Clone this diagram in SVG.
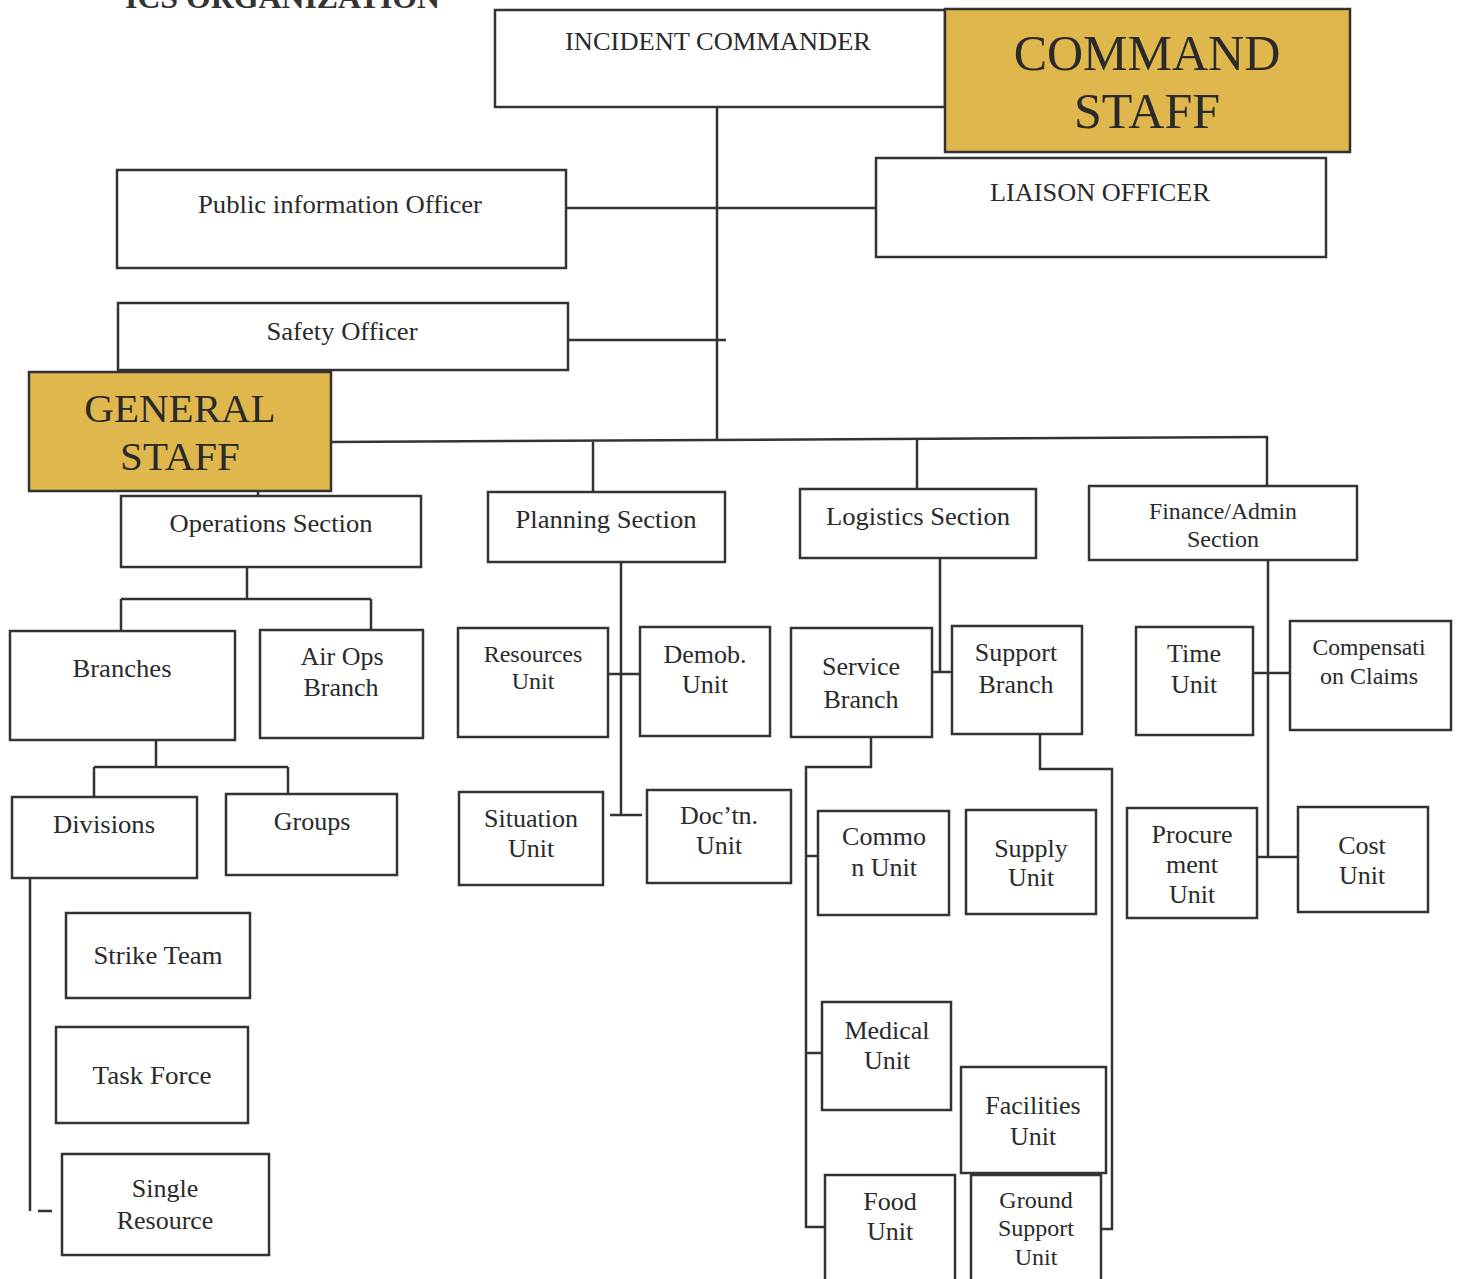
<svg xmlns="http://www.w3.org/2000/svg" width="1460" height="1279" viewBox="0 0 1460 1279">
<style>
.box{fill:#ffffff;stroke:#333;stroke-width:2.5}
.gold{fill:#dfb74d;stroke:#333;stroke-width:2.5}
.t{font-family:"Liberation Serif","Times New Roman",serif;font-size:26px;fill:#2a2a2a;text-anchor:middle}
.s{font-size:24px}
.big{font-size:50px}
.gs{font-size:41px}
.title{font-family:"Liberation Serif","Times New Roman",serif;font-size:31px;font-weight:bold;fill:#333}
.c{fill:none;stroke:#333;stroke-width:2.5}
</style>
<rect width="1460" height="1279" fill="#ffffff"/>
<text class="title" x="125" y="8" textLength="315" lengthAdjust="spacingAndGlyphs">ICS ORGANIZATION</text>

<g id="connectors" class="c">
<path d="M717,107 V441"/>
<path d="M566,208 H880"/>
<path d="M568,340 H726"/>
<path d="M331,442 L1267,437"/>
<path d="M593,442 V492"/>
<path d="M917,439 V489"/>
<path d="M1267,436 V486"/>
<path d="M258,491 V496"/>
<path d="M247,567 V599 M121,599 H371 M121,599 V631 M371,599 V630"/>
<path d="M156,740 V767 M94,767 H288 M94,767 V797 M288,767 V794"/>
<path d="M30,878 V1211 M38,1211 H52"/>
<path d="M621,562 V815 M608,674 H640 M610,815 H642"/>
<path d="M940,558 V672 M932,672 H952"/>
<path d="M871,737 V767 H806 V1227 H825 M806,856 H818 M806,1053 H822"/>
<path d="M1040,734 V769 H1112 V1229 H1101"/>
<path d="M1268,560 V857 M1253,673 H1290 M1257,857 H1298"/>
</g>

<g id="incident-commander"><rect class="box" x="495" y="10" width="450" height="97"/><text class="t" x="718" y="50" textLength="306" lengthAdjust="spacingAndGlyphs">INCIDENT COMMANDER</text></g>
<g id="command-staff"><rect class="gold" x="945" y="9" width="405" height="143"/><text class="t big" x="1147" y="70">COMMAND</text><text class="t big" x="1147" y="128">STAFF</text></g>
<g id="public-information-officer"><rect class="box" x="117" y="170" width="449" height="98"/><text class="t" x="340" y="213" font-size="28" textLength="284" lengthAdjust="spacingAndGlyphs">Public information Officer</text></g>
<g id="liaison-officer"><rect class="box" x="876" y="158" width="450" height="99"/><text class="t" x="1100" y="201" textLength="220" lengthAdjust="spacingAndGlyphs">LIAISON OFFICER</text></g>
<g id="safety-officer"><rect class="box" x="118" y="303" width="450" height="67"/><text class="t" x="342" y="340" font-size="28" textLength="151" lengthAdjust="spacingAndGlyphs">Safety Officer</text></g>
<g id="general-staff"><rect class="gold" x="29" y="372" width="302" height="119"/><text class="t gs" x="180" y="422">GENERAL</text><text class="t gs" x="180" y="470">STAFF</text></g>

<g id="operations-section"><rect class="box" x="121" y="496" width="300" height="71"/><text class="t" x="271" y="532" textLength="203" lengthAdjust="spacingAndGlyphs">Operations Section</text></g>
<g id="planning-section"><rect class="box" x="488" y="492" width="237" height="70"/><text class="t" x="606" y="528" textLength="181" lengthAdjust="spacingAndGlyphs">Planning Section</text></g>
<g id="logistics-section"><rect class="box" x="800" y="489" width="236" height="69"/><text class="t" x="918" y="525" textLength="184" lengthAdjust="spacingAndGlyphs">Logistics Section</text></g>
<g id="finance-admin-section"><rect class="box" x="1089" y="486" width="268" height="74"/><text class="t s" x="1223" y="519" textLength="148" lengthAdjust="spacingAndGlyphs">Finance/Admin</text><text class="t s" x="1223" y="547">Section</text></g>

<g id="branches"><rect class="box" x="10" y="631" width="225" height="109"/><text class="t" x="122" y="677" textLength="99" lengthAdjust="spacingAndGlyphs">Branches</text></g>
<g id="air-ops-branch"><rect class="box" x="260" y="630" width="163" height="108"/><text class="t" x="342" y="665">Air Ops</text><text class="t" x="341" y="696">Branch</text></g>
<g id="resources-unit"><rect class="box" x="458" y="628" width="150" height="109"/><text class="t s" x="533" y="662">Resources</text><text class="t s" x="533" y="689">Unit</text></g>
<g id="demob-unit"><rect class="box" x="640" y="627" width="130" height="109"/><text class="t" x="705" y="663">Demob.</text><text class="t" x="705" y="693">Unit</text></g>
<g id="service-branch"><rect class="box" x="791" y="628" width="141" height="109"/><text class="t" x="861" y="675" font-size="27">Service</text><text class="t" x="861" y="708" font-size="27">Branch</text></g>
<g id="support-branch"><rect class="box" x="952" y="626" width="130" height="108"/><text class="t" x="1016" y="661">Support</text><text class="t" x="1016" y="693">Branch</text></g>
<g id="time-unit"><rect class="box" x="1136" y="627" width="117" height="108"/><text class="t" x="1194" y="662">Time</text><text class="t" x="1194" y="693">Unit</text></g>
<g id="compensation-claims"><rect class="box" x="1290" y="621" width="161" height="109"/><text class="t s" x="1369" y="655" textLength="113" lengthAdjust="spacingAndGlyphs">Compensati</text><text class="t s" x="1369" y="684" textLength="98" lengthAdjust="spacingAndGlyphs">on Claims</text></g>

<g id="divisions"><rect class="box" x="12" y="797" width="185" height="81"/><text class="t" x="104" y="833" textLength="102" lengthAdjust="spacingAndGlyphs">Divisions</text></g>
<g id="groups"><rect class="box" x="226" y="794" width="171" height="81"/><text class="t" x="312" y="830">Groups</text></g>
<g id="situation-unit"><rect class="box" x="459" y="792" width="144" height="93"/><text class="t" x="531" y="827">Situation</text><text class="t" x="531" y="857">Unit</text></g>
<g id="doctn-unit"><rect class="box" x="647" y="790" width="144" height="93"/><text class="t" x="719" y="824">Doc’tn.</text><text class="t" x="719" y="854">Unit</text></g>
<g id="commo-unit"><rect class="box" x="818" y="811" width="131" height="104"/><text class="t" x="884" y="845">Commo</text><text class="t" x="884" y="876">n Unit</text></g>
<g id="supply-unit"><rect class="box" x="966" y="810" width="130" height="104"/><text class="t" x="1031" y="857">Supply</text><text class="t" x="1031" y="886">Unit</text></g>
<g id="procurement-unit"><rect class="box" x="1127" y="808" width="130" height="110"/><text class="t" x="1192" y="843">Procure</text><text class="t" x="1192" y="873">ment</text><text class="t" x="1192" y="903">Unit</text></g>
<g id="cost-unit"><rect class="box" x="1298" y="807" width="130" height="105"/><text class="t" x="1362" y="854">Cost</text><text class="t" x="1362" y="884">Unit</text></g>

<g id="strike-team"><rect class="box" x="66" y="913" width="184" height="85"/><text class="t" x="158" y="964" textLength="129" lengthAdjust="spacingAndGlyphs">Strike Team</text></g>
<g id="task-force"><rect class="box" x="56" y="1027" width="192" height="96"/><text class="t" x="152" y="1084" textLength="119" lengthAdjust="spacingAndGlyphs">Task Force</text></g>
<g id="single-resource"><rect class="box" x="62" y="1154" width="207" height="101"/><text class="t" x="165" y="1197">Single</text><text class="t" x="165" y="1229">Resource</text></g>

<g id="medical-unit"><rect class="box" x="822" y="1002" width="129" height="108"/><text class="t" x="887" y="1039">Medical</text><text class="t" x="887" y="1069">Unit</text></g>
<g id="facilities-unit"><rect class="box" x="961" y="1067" width="145" height="106"/><text class="t" x="1033" y="1114">Facilities</text><text class="t" x="1033" y="1145">Unit</text></g>
<g id="food-unit"><rect class="box" x="825" y="1175" width="130" height="110"/><text class="t" x="890" y="1210">Food</text><text class="t" x="890" y="1240">Unit</text></g>
<g id="ground-support-unit"><rect class="box" x="971" y="1175" width="130" height="110"/><text class="t s" x="1036" y="1208">Ground</text><text class="t s" x="1036" y="1236">Support</text><text class="t s" x="1036" y="1265">Unit</text></g>
</svg>
